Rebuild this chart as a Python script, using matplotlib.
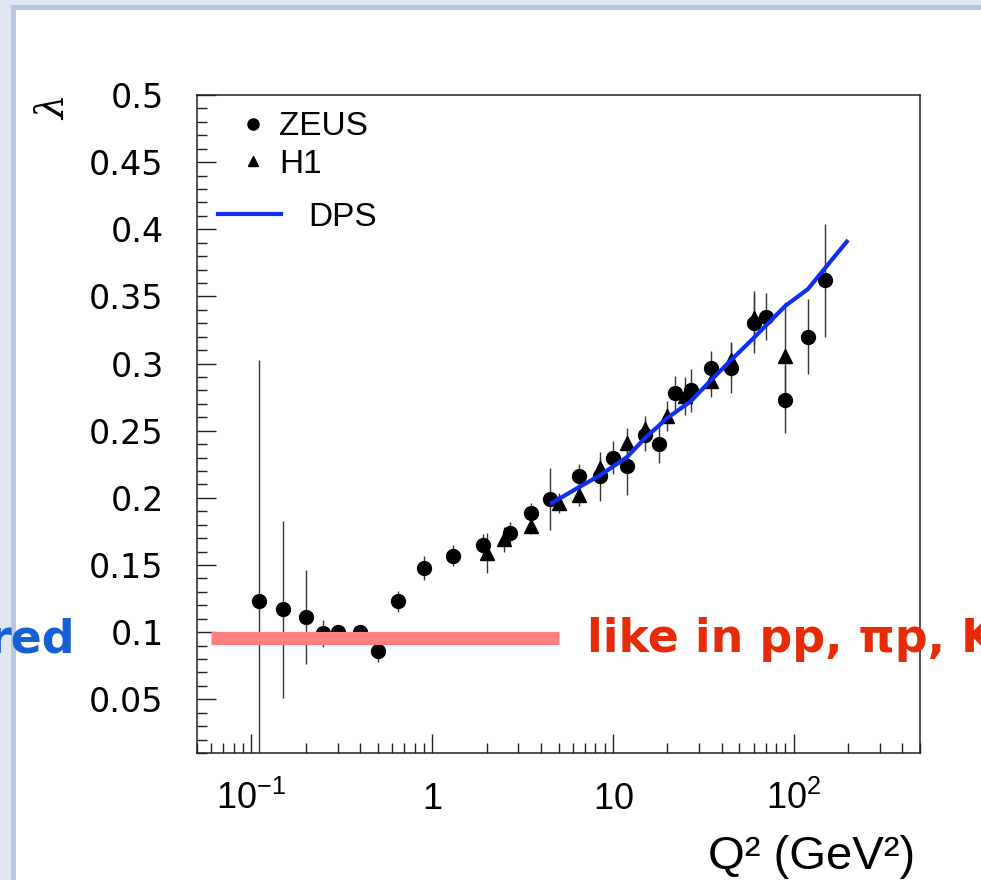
import numpy as np
import matplotlib.pyplot as plt
from matplotlib.ticker import FixedLocator, FixedFormatter, LogLocator, NullFormatter
from matplotlib.lines import Line2D
from matplotlib.patches import Rectangle

plt.rcParams['mathtext.fontset'] = 'custom'
plt.rcParams['mathtext.rm'] = 'Liberation Sans'
plt.rcParams['mathtext.it'] = 'Liberation Sans'

# ZEUS points
zeus_q2 = [0.11, 0.15, 0.20, 0.25, 0.30, 0.40, 0.50, 0.65, 0.90, 1.3, 1.9, 2.7, 3.5, 4.5,
           6.5, 8.5, 10, 12, 15, 18, 22, 27, 35, 45, 60, 70, 90, 120, 150]
zeus_lam = [0.123, 0.117, 0.111, 0.099, 0.100, 0.100, 0.086, 0.123, 0.148, 0.157, 0.165,
            0.174, 0.189, 0.199, 0.216, 0.216, 0.230, 0.224, 0.247, 0.240, 0.278, 0.280,
            0.297, 0.297, 0.330, 0.335, 0.273, 0.320, 0.362]
zeus_err = [0.180, 0.066, 0.035, 0.010, 0.005, 0.005, 0.008, 0.008, 0.009, 0.008, 0.008,
            0.008, 0.007, 0.023, 0.009, 0.018, 0.012, 0.022, 0.012, 0.014, 0.013, 0.016,
            0.0125, 0.019, 0.022, 0.0175, 0.025, 0.028, 0.042]

# H1 points
h1_q2 = [2.0, 2.5, 3.5, 5.0, 6.5, 8.5, 12, 15, 20, 25, 35, 45, 60, 90]
h1_lam = [0.159, 0.169, 0.179, 0.196, 0.202, 0.222, 0.241, 0.251, 0.261, 0.276, 0.287,
          0.303, 0.334, 0.306]
h1_err = [0.015, 0.009, 0.006, 0.0075, 0.008, 0.008, 0.011, 0.010, 0.011, 0.014, 0.012,
          0.012, 0.020, 0.040]

# DPS curve
dps_q2 = [4.5, 6.5, 8.5, 12, 15, 20, 27, 35, 45, 60, 90, 120, 150, 200]
dps_lam = [0.1955, 0.208, 0.2168, 0.2305, 0.2443, 0.2595, 0.272, 0.2878, 0.3025, 0.319,
           0.343, 0.3555, 0.3715, 0.392]

# soft-pomeron band
band_q2 = [0.06, 5.0]
band_lam = [0.096, 0.096]

xticks = [0.1, 1, 10, 100]
xticklabels = ['$10^{-1}$', '$1$', '$10$', '$10^{2}$']
yticks = [0.05, 0.1, 0.15, 0.2, 0.25, 0.3, 0.35, 0.4, 0.45, 0.5]
yticklabels = ['0.05', '0.1', '0.15', '0.2', '0.25', '0.3', '0.35', '0.4', '0.45', '0.5']

W, H = 981, 880
fig = plt.figure(figsize=(W / 100, H / 100), dpi=100)
fig.patch.set_facecolor('#e1e7f2')

# white slide panel with its frame line
fig.patches.append(Rectangle((15 / W, 0), 1, 1 - 10 / H, transform=fig.transFigure,
                             facecolor='white', edgecolor='none', zorder=-3))
fig.lines.append(Line2D([12.5 / W, 12.5 / W], [0, 1 - 7.5 / H], transform=fig.transFigure,
                        color='#b9c8e2', lw=3.6, zorder=-2))
fig.lines.append(Line2D([12.5 / W, 1], [1 - 7.5 / H, 1 - 7.5 / H], transform=fig.transFigure,
                        color='#b9c8e2', lw=3.6, zorder=-2))

ax = fig.add_axes([197 / W, 1 - 753 / H, 723 / W, 658 / H])
ax.set_facecolor('white')
ax.set_xscale('log')
ax.set_xlim(0.05, 500)
ax.set_ylim(0.01, 0.5)

ax.errorbar(zeus_q2, zeus_lam, yerr=zeus_err, fmt='o', color='black', ms=10,
            ecolor='#333333', elinewidth=1.0, capsize=0, zorder=3)
ax.errorbar(h1_q2, h1_lam, yerr=h1_err, fmt='^', color='black', ms=10,
            ecolor='#333333', elinewidth=1.0, capsize=0, zorder=3)
ax.plot(dps_q2, dps_lam, color='#0f2ff5', lw=3.0, zorder=4, solid_capstyle='butt')
ax.plot(band_q2, band_lam, color='#ff8080', lw=9.5, zorder=5, solid_capstyle='butt')

# axes and ticks
for s in ax.spines.values():
    s.set_color('#222222')
    s.set_linewidth(1.1)
ax.xaxis.set_major_locator(FixedLocator(xticks))
ax.xaxis.set_major_formatter(FixedFormatter(xticklabels))
ax.xaxis.set_minor_locator(LogLocator(base=10, subs=np.arange(2, 10), numticks=20))
ax.xaxis.set_minor_formatter(NullFormatter())
ax.yaxis.set_major_locator(FixedLocator(yticks))
ax.yaxis.set_major_formatter(FixedFormatter(yticklabels))
ax.yaxis.set_minor_locator(FixedLocator(np.arange(0.01, 0.5, 0.01)))

ax.tick_params(which='both', direction='in', top=False, right=False, color='#222222',
               width=1.0)
ax.tick_params(which='major', length=14)
ax.tick_params(which='minor', length=7)
ax.tick_params(axis='y', which='major', pad=24, labelsize=24)
ax.tick_params(axis='x', which='major', pad=40, labelsize=26)
for lab in ax.get_yticklabels():
    lab.set_fontfamily('DejaVu Sans')
for lab in ax.get_xticklabels():
    lab.set_verticalalignment('baseline')

# axis titles
fig.text(915 / W, 1 - 869 / H, 'Q² (GeV²)', ha='right', va='baseline',
         fontsize=34, family='Liberation Sans')
fig.text(55 / W, 1 - 108 / H, 'λ', rotation=90, ha='center', va='center',
         fontsize=28, family='DejaVu Serif', style='italic')

# legends
leg1 = ax.legend(handles=[Line2D([], [], ls='none', marker='o', color='black', ms=8),
                          Line2D([], [], ls='none', marker='^', color='black', ms=7)],
                 labels=['ZEUS', 'H1'], loc='upper left', bbox_to_anchor=(0.054, 0.975),
                 frameon=False, borderpad=0, borderaxespad=0, handlelength=1.0,
                 handletextpad=0.3, labelspacing=0.2, prop={'family': 'Liberation Sans', 'size': 24})
ax.add_artist(leg1)
ax.legend(handles=[Line2D([], [], color='#0f2ff5', lw=3.0)], labels=['DPS'],
          loc='upper left', bbox_to_anchor=(0.029, 0.838), frameon=False, borderpad=0,
          borderaxespad=0, handlelength=1.9, handletextpad=0.8,
          prop={'family': 'Liberation Sans', 'size': 24})

# slide annotations
fig.text(75 / W, 1 - 652 / H, 'red', ha='right', va='baseline', fontsize=33,
         fontweight='bold', color='#1660d6', family='DejaVu Sans')
fig.text(587 / W, 1 - 652 / H, 'like in pp, πp, K', ha='left', va='baseline', fontsize=33,
         fontweight='bold', color='#e62b06', family='DejaVu Sans')

fig.savefig('out.png', dpi=100, facecolor=fig.get_facecolor())
